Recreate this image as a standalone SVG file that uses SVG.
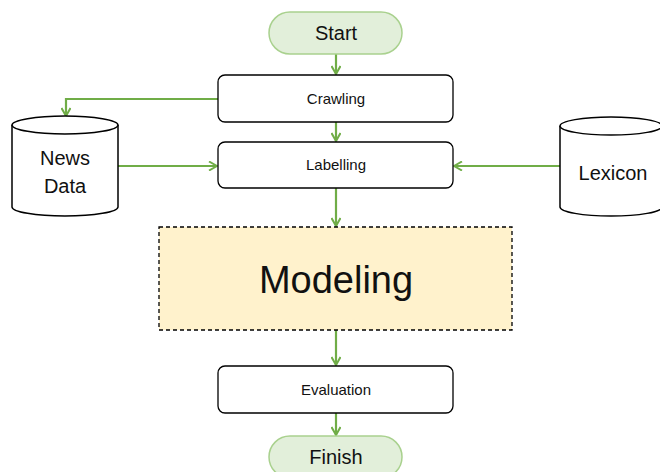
<svg xmlns="http://www.w3.org/2000/svg" width="660" height="472" viewBox="0 0 660 472">
<style>
.term{fill:#e2efda;stroke:#a9d18e;stroke-width:1.5}
.proc{fill:#ffffff;stroke:#000;stroke-width:1.3}
.cyl{fill:#ffffff;stroke:#000;stroke-width:1.5}
.conn{fill:none;stroke:#70ad47;stroke-width:2.2}
text{font-family:"Liberation Sans",Arial,sans-serif;fill:#111;text-anchor:middle}
.t20{font-size:20px}
.t14{font-size:15px}
</style>
<defs>
<marker id="arr" viewBox="0 0 10 10" refX="9" refY="5" markerWidth="10" markerHeight="10" markerUnits="userSpaceOnUse" orient="auto">
<path d="M1,0.5 L9,5 L1,9.5" fill="none" stroke="#70ad47" stroke-width="2"/>
</marker>
</defs>
<rect width="660" height="472" fill="#fff"/>
<g id="connectors">
<line class="conn" x1="336" y1="54" x2="336" y2="74" marker-end="url(#arr)"/>
<line class="conn" x1="336" y1="122" x2="336" y2="141" marker-end="url(#arr)"/>
<polyline class="conn" points="218,99 66,99 66,116" marker-end="url(#arr)"/>
<line class="conn" x1="118" y1="166" x2="217" y2="166" marker-end="url(#arr)"/>
<line class="conn" x1="560" y1="166" x2="454" y2="166" marker-end="url(#arr)"/>
<line class="conn" x1="336" y1="188" x2="336" y2="226" marker-end="url(#arr)"/>
<line class="conn" x1="336" y1="330" x2="336" y2="365" marker-end="url(#arr)"/>
<line class="conn" x1="336" y1="413" x2="336" y2="435" marker-end="url(#arr)"/>
</g>
<g id="start">
<rect class="term" x="269" y="12" width="133" height="42" rx="21"/>
<text class="t20" x="336" y="40">Start</text>
</g>
<g id="crawling">
<rect class="proc" x="218" y="75" width="235" height="47" rx="7"/>
<text class="t14" x="336" y="104">Crawling</text>
</g>
<g id="labelling">
<rect class="proc" x="218" y="142" width="235" height="46" rx="7"/>
<text class="t14" x="336" y="170">Labelling</text>
</g>
<g id="newsdata">
<path class="cyl" d="M12,125 L12,207 A53,9 0 0 0 118,207 L118,125 A53,9 0 0 0 12,125 Z"/>
<path class="cyl" d="M12,125 A53,9 0 0 0 118,125" fill="none"/>
<text class="t20" x="65" y="165">News</text>
<text class="t20" x="65" y="193">Data</text>
</g>
<g id="lexicon">
<path class="cyl" d="M560,126 L560,207 A51,9 0 0 0 662,207 L662,126 A51,9 0 0 0 560,126 Z"/>
<path class="cyl" d="M560,126 A51,9 0 0 0 662,126" fill="none"/>
<text class="t20" x="613" y="180">Lexicon</text>
</g>
<g id="modeling">
<rect x="159" y="227" width="353" height="103" fill="#fff2cc" stroke="#000" stroke-width="1.3" stroke-dasharray="4,3"/>
<text x="336" y="293" style="font-size:38px">Modeling</text>
</g>
<g id="evaluation">
<rect class="proc" x="218" y="366" width="235" height="47" rx="7"/>
<text class="t14" x="336" y="395">Evaluation</text>
</g>
<g id="finish">
<rect class="term" x="269" y="436" width="133" height="42" rx="21"/>
<text class="t20" x="336" y="464">Finish</text>
</g>
</svg>
